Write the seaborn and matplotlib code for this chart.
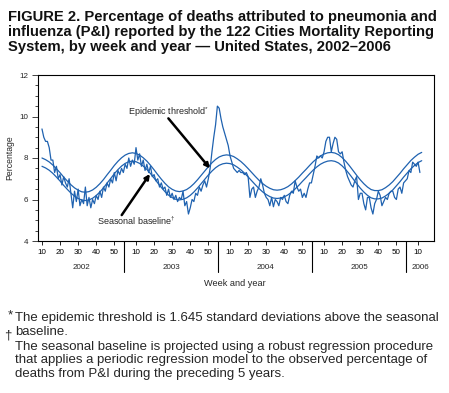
import numpy as np
import pandas as pd
import matplotlib
matplotlib.use("Agg")
import matplotlib.pyplot as plt
import matplotlib.transforms as mtrans
import seaborn as sns

# weekly observed P&I percentage, by MMWR year
obs_2002 = [9.4, 9.0, 8.8, 8.8, 8.5, 7.9, 7.9, 7.3, 7.6, 7.0, 7.2, 6.7, 7.1, 6.8, 6.6,
            7.0, 6.3, 5.6, 6.4, 5.9, 6.5, 5.7, 6.0, 5.8, 6.6, 5.7, 6.1, 5.6, 6.0, 5.8,
            6.2, 6.0, 6.4, 6.1, 6.6, 6.4, 6.8, 6.6, 7.0, 6.8, 7.3, 6.9, 7.4]  # weeks 10-52
obs_2003 = [7.2, 7.5, 7.3, 7.7, 7.5, 8.0, 7.6, 7.9, 7.7, 8.5, 7.9, 8.2, 7.6, 7.9, 7.4,
            7.7, 7.3, 7.6, 7.1, 7.2, 6.9, 7.0, 6.6, 6.8, 6.5, 6.6, 6.2, 6.5, 6.1, 6.3,
            6.0, 6.2, 5.9, 6.1, 6.0, 6.4, 5.7, 5.9, 5.3, 5.6, 6.0, 5.9, 6.3, 6.2, 6.6,
            6.4, 6.7, 6.9, 6.6, 7.0, 7.5, 8.3]
obs_2004 = [9.0, 9.6, 10.5, 10.4, 9.9, 9.5, 9.2, 8.9, 8.6, 8.1, 7.8, 7.5, 7.4, 7.3, 7.4,
            7.3, 7.3, 7.2, 7.3, 7.1, 6.1, 6.5, 6.6, 6.1, 6.4, 6.6, 7.0, 6.7, 6.3, 6.1,
            6.0, 5.7, 6.1, 5.65, 6.0, 5.9, 5.7, 6.1, 6.0, 6.2, 5.9, 5.8, 6.2, 6.4, 6.3,
            6.9, 6.6, 6.4, 6.5, 6.1, 6.3, 6.1]
obs_2005 = [6.5, 6.8, 6.8, 7.2, 7.6, 8.1, 8.0, 8.1, 8.0, 8.3, 8.8, 9.0, 9.0, 8.3, 8.7,
            9.0, 8.9, 8.3, 8.2, 8.3, 7.8, 7.4, 7.1, 6.9, 6.7, 6.6, 6.9, 7.1, 6.0, 6.3,
            6.3, 5.8, 5.5, 6.1, 6.1, 5.6, 5.3, 5.8, 6.0, 6.4, 6.2, 5.7, 5.9, 6.1, 6.0,
            6.3, 6.4, 6.4, 6.1, 6.0, 6.5, 6.6]
obs_2006 = [6.3, 6.8, 6.9, 7.0, 7.4, 7.3, 7.8, 7.7, 7.6, 7.8, 7.3]  # weeks 1-11

years = [2002, 2003, 2004, 2005, 2006]
first_week = [10, 1, 1, 1, 1]
year_start = [0, 52, 104, 156, 208]   # running week index at week 0 of each year
observed = [obs_2002, obs_2003, obs_2004, obs_2005, obs_2006]

# seasonal baseline and epidemic threshold, every 2nd week from index 10 to 220
trend_weeks = list(range(10, 221, 2))
baseline = [7.60, 7.52, 7.41, 7.26, 7.08, 6.89, 6.68, 6.49, 6.31, 6.16, 6.05, 5.97, 5.95,
            5.98, 6.06, 6.19, 6.36, 6.56, 6.79, 7.01, 7.24, 7.44, 7.61, 7.74, 7.82, 7.85,
            7.82, 7.74, 7.61, 7.45, 7.25, 7.03, 6.80, 6.58, 6.38, 6.21, 6.09, 6.01, 5.98,
            6.01, 6.08, 6.20, 6.36, 6.55, 6.76, 6.97, 7.18, 7.37, 7.53, 7.65, 7.72, 7.75,
            7.73, 7.67, 7.56, 7.43, 7.27, 7.09, 6.90, 6.71, 6.53, 6.37, 6.24, 6.14, 6.07, 6.05,
            6.07, 6.13, 6.22, 6.35, 6.51, 6.68, 6.87, 7.05, 7.24, 7.42, 7.57, 7.70, 7.79, 7.85, 7.87,
            7.84, 7.76, 7.62, 7.44, 7.23, 7.00, 6.77, 6.55, 6.36, 6.20, 6.08, 6.03,
            6.03, 6.07, 6.17, 6.30, 6.46, 6.66, 6.86, 7.08, 7.28, 7.48, 7.64, 7.78, 7.87]
threshold = [8.00, 7.92, 7.81, 7.66, 7.48, 7.29, 7.08, 6.89, 6.71, 6.56, 6.45, 6.37, 6.35,
             6.38, 6.46, 6.59, 6.76, 6.96, 7.19, 7.41, 7.64, 7.84, 8.01, 8.14, 8.22, 8.25,
             8.22, 8.14, 8.01, 7.85, 7.65, 7.43, 7.20, 6.98, 6.78, 6.61, 6.49, 6.41, 6.38,
             6.41, 6.48, 6.60, 6.76, 6.95, 7.16, 7.37, 7.58, 7.77, 7.93, 8.05, 8.12, 8.15,
             8.13, 8.07, 7.96, 7.83, 7.67, 7.49, 7.30, 7.11, 6.93, 6.77, 6.64, 6.54, 6.47, 6.45,
             6.47, 6.53, 6.62, 6.75, 6.91, 7.08, 7.27, 7.45, 7.64, 7.82, 7.97, 8.10, 8.19, 8.25, 8.27,
             8.24, 8.16, 8.02, 7.84, 7.63, 7.40, 7.17, 6.95, 6.76, 6.60, 6.48, 6.43,
             6.43, 6.47, 6.57, 6.70, 6.86, 7.06, 7.26, 7.48, 7.68, 7.88, 8.04, 8.18, 8.27]

week_labels = [10, 20, 30, 40, 50]
year_edges = [55.4, 107.4, 159.3, 211.3]

rows = []
for start, fw, vals in zip(year_start, first_week, observed):
    for i, v in enumerate(vals):
        rows.append((start + fw + i, v))
obs_df = pd.DataFrame(rows, columns=["week", "pct"])
trend_df = pd.DataFrame({"week": trend_weeks, "baseline": baseline, "threshold": threshold})

sns.set_style("ticks")
plt.rcParams["font.family"] = ["Liberation Sans", "DejaVu Sans"]
plt.rcParams["mathtext.fontset"] = "custom"
plt.rcParams["mathtext.rm"] = "Liberation Sans"

W, H = 449, 393
fig = plt.figure(figsize=(W / 100, H / 100), dpi=100)
ax = fig.add_axes([38 / W, 1 - 241 / H, (434 - 38) / W, (241 - 75) / H])

blue = "#1f62b0"
sns.lineplot(data=obs_df, x="week", y="pct", ax=ax, color=blue, lw=0.9)
sns.lineplot(data=trend_df, x="week", y="baseline", ax=ax, color=blue, lw=0.9)
sns.lineplot(data=trend_df, x="week", y="threshold", ax=ax, color=blue, lw=0.9)

ax.set_xlim(7.8, 226.8)
ax.set_ylim(4, 12)
ax.set_yticks([4, 6, 8, 10, 12])
ax.set_yticks(np.arange(4, 12.01, 0.5), minor=True)
ticks, labels = [], []
for yr, start in zip(years, year_start):
    wl = week_labels if yr != 2006 else [10]
    for w in wl:
        ticks.append(start + w)
        labels.append(str(w))
ax.set_xticks(ticks)
ax.set_xticklabels(labels)
ax.set_xlabel("")
ax.set_ylabel("")
ax.tick_params(axis="x", length=3, width=0.6, labelsize=5.8, pad=3, colors="black")
ax.tick_params(axis="y", which="major", length=4, width=0.6, labelsize=5.8, pad=3)
ax.tick_params(axis="y", which="minor", length=2.5, width=0.6)
for s in ax.spines.values():
    s.set_linewidth(0.8)
    s.set_color("black")

trans = mtrans.blended_transform_factory(ax.transData, ax.transAxes)
for b in year_edges:
    ax.plot([b, b], [0, -31 / 166], transform=trans, color="black", lw=0.8, clip_on=False)
bounds = [7.8] + year_edges + [226.8]
for i, yr in enumerate(years):
    ax.text((bounds[i] + bounds[i + 1]) / 2, -26.5 / 166, str(yr), transform=trans,
            ha="center", va="center", fontsize=5.8)

# annotations
ax.text(80.2, 10.23, r"Epidemic threshold$^{*}$", ha="center", va="center", fontsize=6.5)
ax.annotate("", xy=(102.9, 7.5), xytext=(79.9, 9.91),
            arrowprops=dict(arrowstyle="-|>", lw=1.8, color="black", mutation_scale=7,
                            shrinkA=0, shrinkB=0))
ax.text(62, 4.96, r"Seasonal baseline$^{\dagger}$", ha="center", va="center", fontsize=6.5)
ax.annotate("", xy=(69.7, 7.23), xytext=(54.1, 5.25),
            arrowprops=dict(arrowstyle="-|>", lw=1.8, color="black", mutation_scale=7,
                            shrinkA=0, shrinkB=0))

fig.text(10 / W, 1 - 158 / H, "Percentage", rotation=90, ha="center", va="center", fontsize=6.2)
fig.text(235 / W, 1 - 284 / H, "Week and year", ha="center", va="center", fontsize=6.6)

title = ["FIGURE 2. Percentage of deaths attributed to pneumonia and",
         "influenza (P&I) reported by the 122 Cities Mortality Reporting",
         "System, by week and year \u2014 United States, 2002\u20132006"]
for i, line in enumerate(title):
    fig.text(8 / W, 1 - (16.7 + 15 * i) / H, line, ha="left", va="center",
             fontsize=10.6, fontweight="bold", color="#111111")

fs = 9.5
fig.text(8 / W, 1 - 315 / H, "*", ha="left", va="center", fontsize=fs)
fig.text(15 / W, 1 - 318.3 / H,
         "The epidemic threshold is 1.645 standard deviations above the seasonal",
         ha="left", va="center", fontsize=fs)
fig.text(15 / W, 1 - 332 / H, "baseline.", ha="left", va="center", fontsize=fs)
fig.text(4 / W, 1 - 336 / H, "\u2020", ha="left", va="center", fontsize=fs)
foot2 = ["The seasonal baseline is projected using a robust regression procedure",
         "that applies a periodic regression model to the observed percentage of",
         "deaths from P&I during the preceding 5 years."]
for i, line in enumerate(foot2):
    fig.text(15 / W, 1 - (346.7 + 13.8 * i) / H, line, ha="left", va="center", fontsize=fs)

fig.savefig("out.png", dpi=100)
